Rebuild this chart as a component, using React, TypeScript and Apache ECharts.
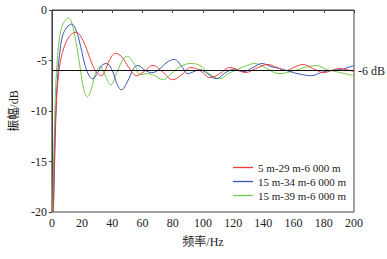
import React, { useEffect, useRef } from "react";
import * as echarts from "echarts";

const seriesNames = ["5 m-29 m-6 000 m", "15 m-34 m-6 000 m", "15 m-39 m-6 000 m"];
const seriesColors = ["#ee3b3b", "#3a56b8", "#74c947"];

const redData: [number, number][] = [
  [1, -20], [2, -12.5], [3, -9], [4, -7], [5.5, -5.2], [7, -4.2], [10, -3], [13, -2.4], [16, -2.2],
  [19, -2.6], [22, -3.5], [25, -4.7], [28, -5.8], [31, -6.4], [33, -6.5], [35, -6.1], [38, -5.0],
  [42, -4.3], [46, -4.6], [51, -5.7], [56, -6.5], [61, -6.1], [67, -5.5], [73, -6.1], [80, -6.9],
  [86, -6.4], [92, -5.7], [98, -6.0], [105, -6.7], [111, -6.3], [118, -5.7], [123, -5.9], [128, -6.2],
  [135, -5.8], [143, -5.4], [149, -5.7], [155, -6.0], [160, -5.7], [166, -5.4], [173, -5.8],
  [180, -6.2], [185, -6.0], [190, -5.8], [195, -5.9], [200, -6.1],
];

const blueData: [number, number][] = [
  [1, -20], [2, -14], [3, -9], [4, -6.2], [5, -4.5], [7, -2.6], [10, -1.7], [13, -1.4], [16, -2.0],
  [19, -3.6], [22, -5.5], [25, -6.6], [27, -6.8], [30, -6.3], [33, -5.5], [36, -5.3], [40, -6.0],
  [43, -7.3], [46, -7.9], [50, -7.1], [54, -5.8], [57, -5.5], [61, -5.9], [66, -6.2], [70, -6.0],
  [76, -5.2], [81, -4.9], [86, -5.6], [90, -6.3], [94, -6.1], [98, -5.9], [103, -6.3], [109, -6.8],
  [114, -6.3], [120, -5.9], [127, -6.1], [133, -5.7], [139, -5.3], [145, -5.6], [151, -5.8],
  [160, -6.2], [166, -6.4], [172, -6.5], [178, -6.2], [184, -6.0], [190, -5.9], [196, -5.7], [200, -5.5],
];

const greenData: [number, number][] = [
  [0.5, -20], [1, -16], [2, -10], [3, -6.2], [5, -2.8], [7, -1.5], [9, -1.0], [11, -0.8], [13, -1.2],
  [16, -3.2], [19, -6.0], [21, -7.8], [23.5, -8.6], [26, -7.9], [29, -6.2], [32, -5.6], [35, -6.4],
  [39, -7.4], [43, -6.2], [47, -4.9], [50, -4.6], [54, -5.2], [59, -6.4], [63, -6.3], [68, -6.5],
  [73.5, -6.9], [79, -6.3], [85, -5.6], [92, -5.3], [98, -5.5], [104, -6.3], [111, -6.8], [117, -6.3],
  [124, -5.8], [129, -5.5], [134, -5.3], [140, -5.6], [146, -6.1], [151, -6.3], [158, -6.1],
  [165, -5.8], [170, -5.6], [175, -5.5], [182, -5.9], [188, -6.1], [194, -6.3], [200, -6.5],
];

const xTicks = { min: 0, max: 200, interval: 20 };
const yTicks = { min: -20, max: 0, interval: 5 };
const refLevel = -6;
const refLabel = "-6 dB";

const FONT = "'Liberation Serif', 'Noto Sans CJK SC', serif";

export default function App() {
  const ref = useRef<HTMLDivElement>(null);
  useEffect(() => {
    if (!ref.current) return;
    const chart = echarts.init(ref.current, undefined, { renderer: "svg" });
    const axisColor = "#444";
    const datasets = [redData, blueData, greenData];
    chart.setOption({
      animation: false,
      backgroundColor: "#fff",
      grid: { left: 50, right: 33, top: 10, bottom: 47, show: true, borderColor: axisColor, borderWidth: 1 },
      legend: {
        orient: "vertical",
        left: 233,
        top: 161,
        padding: 0,
        icon: "rect",
        itemWidth: 20,
        itemHeight: 1.3,
        itemGap: 1,
        itemStyle: { borderWidth: 0 },
        textStyle: { fontFamily: FONT, fontSize: 11, color: "#222", lineHeight: 13 },
        data: seriesNames.map((n, i) => ({
          name: n,
          itemStyle: { color: seriesColors[i], borderWidth: 0 },
        })),
      },
      xAxis: {
        type: "value",
        min: xTicks.min,
        max: xTicks.max,
        interval: xTicks.interval,
        name: "频率/Hz",
        nameLocation: "middle",
        nameGap: 24,
        nameTextStyle: { fontFamily: FONT, fontSize: 12, color: "#222" },
        axisLine: { show: true, lineStyle: { color: axisColor } },
        axisTick: { show: true, length: 3, lineStyle: { color: axisColor } },
        axisLabel: { fontFamily: FONT, fontSize: 12, color: "#222", margin: 5 },
        splitLine: { show: false },
      },
      yAxis: {
        type: "value",
        min: yTicks.min,
        max: yTicks.max,
        interval: yTicks.interval,
        name: "振幅/dB",
        nameLocation: "middle",
        nameGap: 30,
        nameTextStyle: { fontFamily: FONT, fontSize: 12, color: "#222" },
        axisLine: { show: true, lineStyle: { color: axisColor } },
        axisTick: { show: true, length: 3, lineStyle: { color: axisColor } },
        axisLabel: { fontFamily: FONT, fontSize: 12, color: "#222", margin: 5 },
        splitLine: { show: false },
      },
      series: seriesNames.map((name, i) => ({
        name,
        type: "line",
        data: datasets[i],
        smooth: 0.4,
        symbol: "none",
        showSymbol: false,
        color: seriesColors[i],
        z: 3 - i,
        lineStyle: { color: seriesColors[i], width: 1 },
        itemStyle: { color: seriesColors[i] },
        markLine:
          i === 0
            ? {
                silent: true,
                symbol: "none",
                lineStyle: { color: "#111", type: "solid", width: 1 },
                label: {
                  show: true,
                  position: "end",
                  formatter: refLabel,
                  fontFamily: FONT,
                  fontSize: 12,
                  color: "#222",
                  distance: 4,
                },
                data: [{ yAxis: refLevel }],
                z: 10,
              }
            : undefined,
      })),
    });
    return () => chart.dispose();
  }, []);
  return (
    <div
      ref={ref}
      style={{ position: "fixed", left: 0, top: 0, width: 387, height: 259 }}
    />
  );
}
